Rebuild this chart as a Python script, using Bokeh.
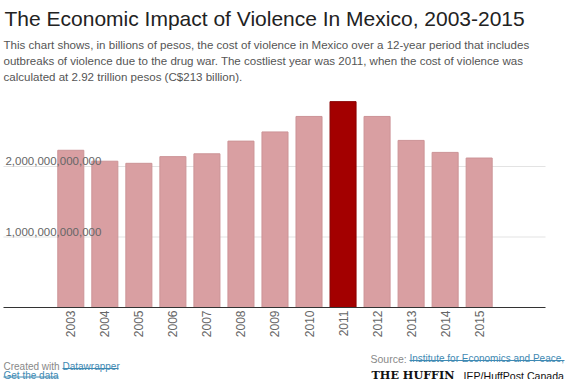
from bokeh.plotting import figure
from bokeh.models import FixedTicker, ColumnDataSource, Range1d
from bokeh.layouts import column
from bokeh.core.properties import value
from bokeh.embed import file_html
from bokeh.resources import INLINE
import math

years = [2003, 2004, 2005, 2006, 2007, 2008, 2009, 2010, 2011, 2012, 2013, 2014, 2015]
year_labels = [str(y) for y in years]
cost = [2.23e12, 2.075e12, 2.045e12, 2.14e12, 2.18e12, 2.36e12, 2.49e12,
        2.71e12, 2.92e12, 2.71e12, 2.37e12, 2.20e12, 2.12e12]
highlight_year = 2011
y_ticks = [1e12, 2e12]
y_tick_labels = ["1,000,000,000,000", "2,000,000,000,000"]

title = "The Economic Impact of Violence In Mexico, 2003-2015"
subtitle = [
    "This chart shows, in billions of pesos, the cost of violence in Mexico over a 12-year period that includes",
    "outbreaks of violence due to the drug war. The costliest year was 2011, when the cost of violence was",
    "calculated at 2.92 trillion pesos (C$213 billion).",
]

FONT = "Liberation Sans"
W = 570
HEAD_H, MAIN_H, FOOT_H = 90, 257, 32
FT, FB = 95 - HEAD_H, 307 - HEAD_H   # frame top/bottom inside main figure
XV0, XV1 = 2000.934, 2017.684         # visible x range (full width)
XA0, XA1 = 2001.02, 2016.95           # extent of axis line / grid lines


def text_panel(h):
    f = figure(width=W, height=h, output_backend="svg", toolbar_location=None,
               x_range=Range1d(0, W), y_range=Range1d(h, 0),
               x_axis_location=None, y_axis_location=None,
               min_border_left=0, min_border_right=0, min_border_top=0,
               min_border_bottom=0, outline_line_color=None)
    f.grid.visible = False
    f.background_fill_color = "white"
    f.border_fill_color = "white"
    return f


def put(f, txt, x, y, size, color, font=FONT, style="normal"):
    f.text(x=[x], y=[y], text=[txt], text_font=value(font), text_font_size=size,
           text_color=color, text_font_style=style, text_baseline="alphabetic",
           text_align="left")


def underline(f, x0, x1, y, color):
    f.segment(x0=[x0], x1=[x1], y0=[y], y1=[y], line_color=color, line_width=1)


# ---------- header ----------
head = text_panel(HEAD_H)
put(head, title, 4, 18, "21px", "#222222")
for i, s in enumerate(subtitle):
    put(head, s, 3, 44 + 16.4 * i, "11.55px", "#555555")

# ---------- chart ----------
fill = ["#a30000" if y == highlight_year else "#d99fa2" for y in years]
edge = ["#8a0000" if y == highlight_year else "#cc9396" for y in years]
src = ColumnDataSource(dict(x=years, top=cost, fill=fill, edge=edge))

p = figure(width=W, height=MAIN_H, output_backend="svg", toolbar_location=None,
           x_range=Range1d(XV0, XV1), y_range=Range1d(0, 3.007e12),
           min_border_left=0, min_border_right=0, min_border_top=FT,
           min_border_bottom=MAIN_H - FB, outline_line_color=None)
p.background_fill_color = "white"
p.border_fill_color = "white"

# horizontal grid lines at the tick values
p.segment(x0=[XA0] * len(y_ticks), x1=[XA1] * len(y_ticks), y0=y_ticks, y1=y_ticks,
          line_color="#e3e3e3", line_width=1)

p.vbar(x="x", top="top", width=0.765, bottom=0, source=src,
       fill_color="fill", line_color="edge", line_width=1)

p.yaxis.visible = False
p.grid.visible = False

p.text(x=[XA0] * len(y_ticks), y=y_ticks, text=y_tick_labels,
       text_font=value(FONT), text_font_size="11.5px", text_color="#666666",
       text_baseline="alphabetic", text_align="left", x_offset=2, y_offset=-5)

p.xaxis.ticker = FixedTicker(ticks=years)
p.xaxis.bounds = (XA0, XA1)
p.xaxis.major_label_overrides = {y: s for y, s in zip(years, year_labels)}
p.xaxis.major_label_orientation = math.pi / 2
p.xaxis.major_tick_line_color = None
p.xaxis.minor_tick_line_color = None
p.xaxis.major_tick_out = 0
p.xaxis.major_tick_in = 0
p.xaxis.minor_tick_out = 0
p.xaxis.axis_line_color = "#333333"
p.xaxis.axis_line_width = 1
p.xaxis.major_label_text_font = FONT
p.xaxis.major_label_text_font_size = "12px"
p.xaxis.major_label_text_color = "#666666"
p.xaxis.major_label_standoff = 3

# ---------- footer ----------
foot = text_panel(FOOT_H)
o = HEAD_H + MAIN_H
link = "#3f8ab3"
put(foot, "Created with", 3, 366 - o, "10px", "#888888")
put(foot, "Datawrapper", 62, 366 - o, "10px", link)
underline(foot, 62, 118, 368 - o, link)
put(foot, "Get the data", 3, 374.5 - o, "10px", link)
underline(foot, 3, 58, 376.5 - o, link)
put(foot, "Source:", 370, 358 - o, "10.5px", "#888888")
put(foot, "Institute for Economics and Peace,", 409, 358 - o, "10px", link)
underline(foot, 409, 564, 360 - o, link)
put(foot, "THE HUFFIN", 371, 374 - o, "11.2px", "#111111", font="DejaVu Serif", style="bold")
put(foot, "IEP/HuffPost Canada", 463, 375 - o, "10.6px", "#111111")

page = column(head, p, foot, spacing=0)
html = file_html(page, INLINE)
open("out.html", "w").write(html)
